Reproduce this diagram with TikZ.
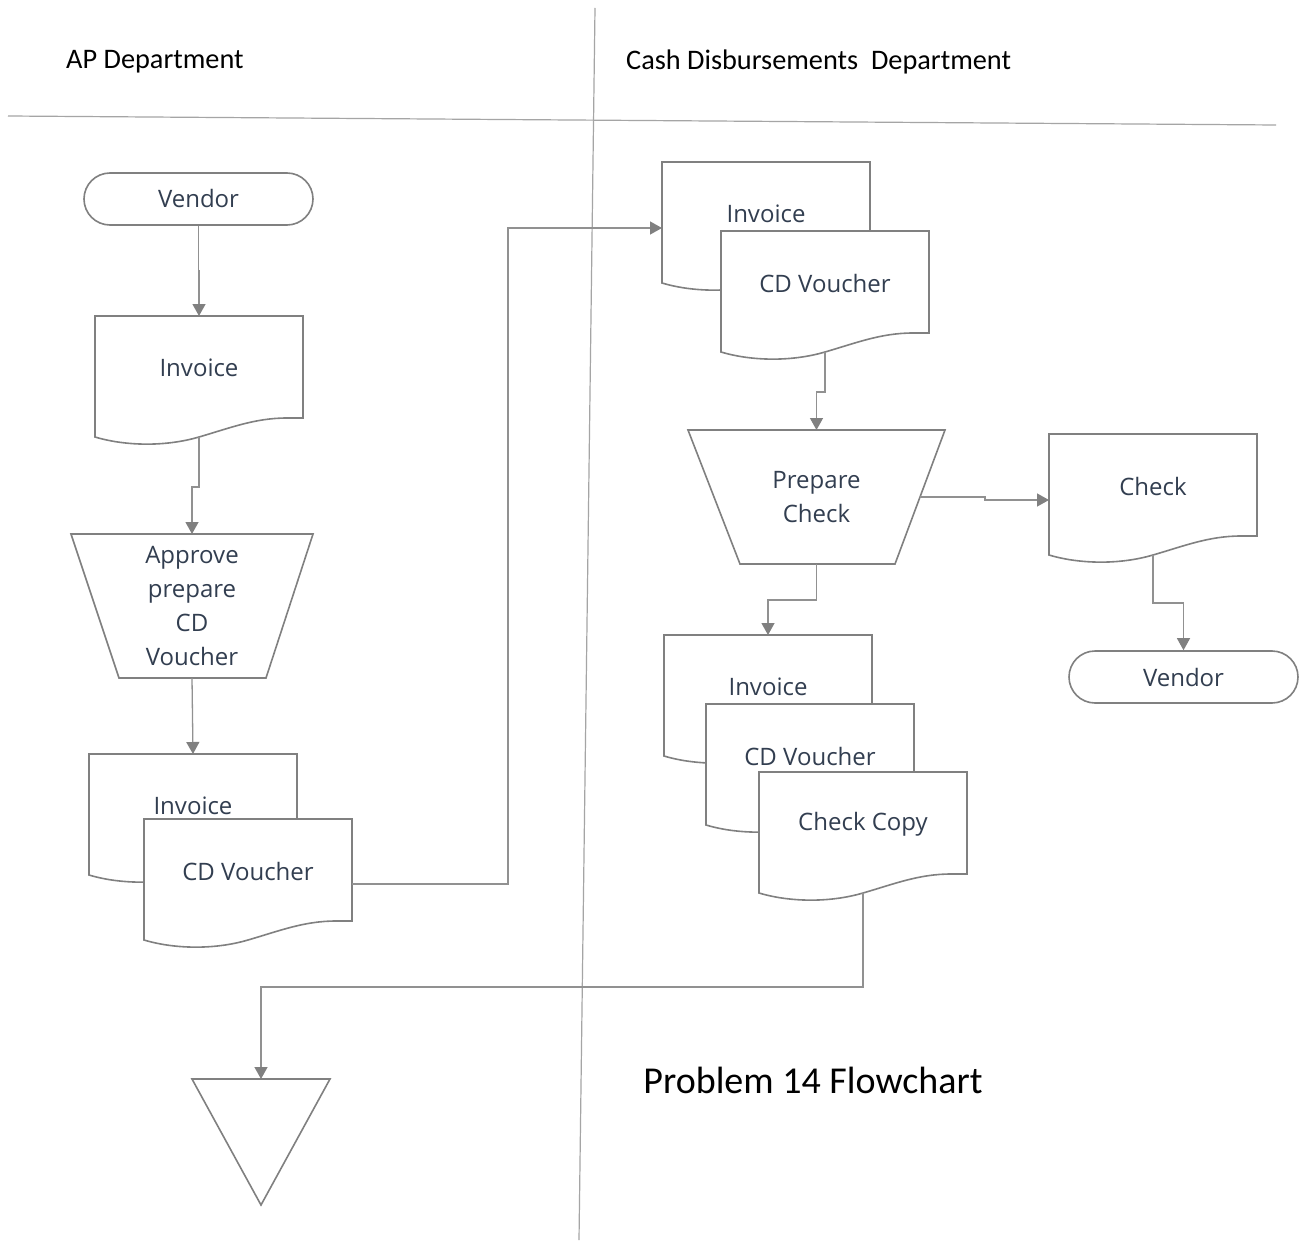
\documentclass[tikz,border=0pt]{standalone}
\usepackage{fontspec}
\setmainfont{Open Sans}
\newfontfamily\hdrfont{Carlito}
\usetikzlibrary{calc,arrows.meta}

\definecolor{txt}{RGB}{50,62,80}
\definecolor{edge}{RGB}{128,128,128}
\definecolor{wire}{RGB}{145,145,145}
\definecolor{rule}{RGB}{165,165,165}

\tikzset{
  shapeline/.style={draw=edge, line width=1.6pt, fill=white},
  conn/.style={draw=wire, line width=1.3pt},
  arrow/.style={conn, -{Triangle[width=13pt,length=12pt,color=edge]}},
  lbl/.style={text=txt, font=\fontsize{24}{34}\selectfont, align=center, inner sep=0},
  hdr/.style={text=black, font=\hdrfont\fontsize{28.3}{33}\selectfont, inner sep=0},
  box/.style={inner sep=0, outer sep=0},
}

% document symbol: name, left x, top y, label
\newcommand\docnode[4]{%
  \begin{scope}[shift={(#2,#3)}]
    \filldraw[shapeline] (0,0) -- (208,0) -- (208,102) -- (192,102)
      .. controls (160,102) and (135,112) .. (104,121)
      .. controls (70,131) and (30,130) .. (0,121) -- cycle;
    \node[box, anchor=north west, minimum width=208, minimum height=121] (#1) at (0,0) {};
    \node[lbl] at (104,52) {#4};
  \end{scope}}

\begin{document}
\begin{tikzpicture}[x=1pt, y=-1pt]
  \useasboundingbox (0,0) rectangle (1306,1241);
  \fill[white] (0,0) rectangle (1306,1241);

  % swimlane rules and headings
  \draw[rule, line width=1.2pt] (8,116) -- (1276,125);
  \draw[rule, line width=1.2pt] (595,8) -- (579,1240);
  \node[hdr, anchor=west] (hAP) at (66,62) {AP Department};
  \node[hdr, anchor=west] (hCD) at (626,62) {Cash Disbursements\ \ Department};

  % ---- AP department ----
  \node[shapeline, lbl, rounded corners=26pt, minimum width=229, minimum height=52] (vendA) at (198.5,199) {Vendor};
  \docnode{invoice}{95}{316}{Invoice}

  \node[box, minimum width=242, minimum height=144] (ap) at (192,606) {};
  \filldraw[shapeline] (ap.north west) -- (ap.north east)
    -- ($(ap.south east)+(-47,0)$) -- ($(ap.south west)+(48,0)$) -- cycle;
  \node[lbl] at (ap.center) {Approve\\prepare\\CD\\Voucher};

  \docnode{invA}{89}{754}{Invoice}
  \docnode{cdvA}{144}{819}{CD Voucher}

  \node[box, anchor=north, minimum width=138, minimum height=126] (tri) at (261,1079) {};
  \filldraw[shapeline] (tri.north west) -- (tri.north east) -- (tri.south) -- cycle;

  % ---- Cash disbursements department ----
  \docnode{invB}{662}{162}{Invoice}
  \docnode{cdvB}{721}{231}{CD Voucher}

  \node[box, minimum width=257, minimum height=134] (pc) at (816.5,497) {};
  \filldraw[shapeline] (pc.north west) -- (pc.north east)
    -- ($(pc.south east)+(-50,0)$) -- ($(pc.south west)+(52,0)$) -- cycle;
  \node[lbl] at (pc.center) {Prepare\\Check};

  \docnode{chk}{1049}{434}{Check}
  \node[shapeline, lbl, rounded corners=26pt, minimum width=229, minimum height=52] (vendB) at (1183.5,677) {Vendor};

  \docnode{invC}{664}{635}{Invoice}
  \docnode{cdvC}{706}{704}{CD Voucher}
  \docnode{ccC}{759}{772}{Check Copy}

  \node[text=black, font=\hdrfont\fontsize{38}{44}\selectfont, inner sep=0] (title) at (813,1080) {Problem 14 Flowchart};

  % ---- connectors ----
  \draw[arrow] (vendA.south) -- ++(0,45) -| (invoice.north);
  \draw[arrow] (invoice.south) -- ++(0,50) -| (ap.north);
  \draw[arrow] (ap.south) -- (invA.north);
  \draw[arrow] ($(cdvA.north east)+(0,65)$) -- ++(156,0) |- ($(invB.north west)+(0,66)$);
  \draw[arrow] (cdvB.south) -- ++(0,40) -| (pc.north);
  \draw[arrow] ($(pc.east)+(-25,0)$) -- ++(65,0) |- ($(chk.north west)+(0,66)$);
  \draw[arrow] (chk.south) -- ++(0,48) -| (vendB.north);
  \draw[arrow] (pc.south) -- ++(0,36) -| (invC.north);
  \draw[arrow] (ccC.south) -- ++(0,94) -| (tri.north);
\end{tikzpicture}
\end{document}
